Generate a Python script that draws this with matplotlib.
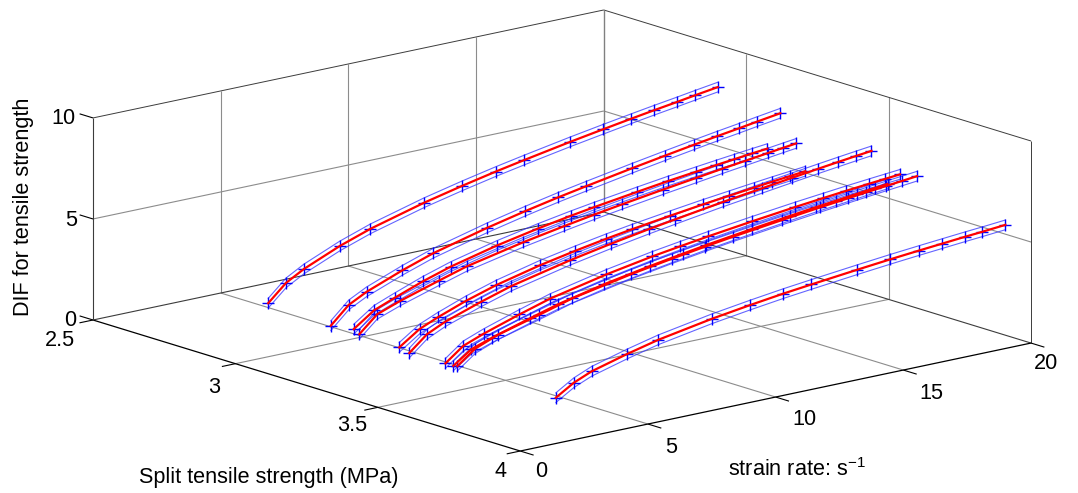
import matplotlib
matplotlib.use("Agg")
import matplotlib.pyplot as plt
from mpl_toolkits.mplot3d import proj3d

plt.rcParams['font.family'] = ['Liberation Sans', 'DejaVu Sans']
plt.rcParams['mathtext.default'] = 'regular'

x_ticks = [0, 5, 10, 15, 20]
y_ticks = [2.5, 3, 3.5, 4]
z_ticks = [0, 5, 10]
y_tick_labels = ['2.5', '3', '3.5', '4']

# split tensile strength of each curve
strength = [2.90, 3.12, 3.20, 3.22, 3.36, 3.44, 3.54, 3.55, 3.60, 3.91]

rate_a = [2.4, 3.1, 3.8, 5.2, 6.4, 8.5, 10, 11.3, 12.4, 14.2, 15.5, 16.6, 17.5, 18.4, 19.1, 20]
rate_c3 = [2.4, 3.2, 4.0, 5.1, 6.2, 8.0, 9.6, 10.9, 11.8, 13.5, 14.7, 15.8, 16.6, 17.3, 18.0, 18.6]
rate_c4 = [2.4, 3.1, 4.0, 5.5, 6.6, 8.8, 10.4, 11.6, 12.7, 14.3, 15.6, 16.6, 17.5, 18.4, 19.0, 19.5]
rate_c5 = [2.4, 3.2, 3.9, 5.0, 6.2, 7.9, 9.3, 10.5, 11.5, 13.0, 14.3, 15.3, 16.3, 17.0, 17.7, 18.3]
rate_c6 = [1.9, 2.6, 3.3, 4.7, 5.9, 8.2, 9.8, 11.3, 12.3, 14.2, 15.7, 16.9, 17.9, 18.7, 19.4, 20.0]
rate_c7 = [2.2, 2.9, 3.7, 5.1, 6.3, 8.5, 10.3, 11.4, 12.5, 14.2, 15.9, 17.0, 17.9, 18.8, 19.4, 20.0]
rate_c8 = [2.4, 3.1, 3.9, 5.4, 6.5, 8.3, 10.1, 11.4, 12.3, 14.1, 15.6, 16.6, 17.4, 18.2, 18.9, 19.4]
rate_c9 = [2.0, 2.7, 3.6, 5.2, 6.5, 8.8, 10.4, 11.7, 12.8, 14.7, 16.2, 17.3, 18.0, 18.8, 19.4, 20.0]
rates = [rate_a, rate_a, rate_c3, rate_c4, rate_c5, rate_c6, rate_c7, rate_c8, rate_c9, rate_a]

dif1 = [1.92, 2.74, 3.24, 4.00, 4.53, 5.26, 5.70, 6.05, 6.32, 6.74, 7.02, 7.25, 7.43, 7.60, 7.74, 7.91]
dif2 = [1.76, 2.60, 3.06, 3.75, 4.27, 4.96, 5.39, 5.73, 5.99, 6.40, 6.68, 6.91, 7.09, 7.26, 7.40, 7.57]
dif3 = [1.93, 2.65, 3.05, 3.57, 4.01, 4.57, 4.98, 5.27, 5.45, 5.76, 5.97, 6.14, 6.26, 6.36, 6.46, 6.54]
dif4 = [1.77, 2.57, 2.99, 3.58, 4.00, 4.60, 4.97, 5.23, 5.45, 5.75, 5.98, 6.16, 6.31, 6.46, 6.56, 6.64]
dif5 = [1.72, 2.42, 2.80, 3.32, 3.79, 4.31, 4.66, 4.93, 5.13, 5.40, 5.62, 5.77, 5.92, 6.02, 6.11, 6.19]
dif6 = [1.92, 2.67, 3.09, 3.70, 4.17, 4.83, 5.22, 5.55, 5.75, 6.12, 6.38, 6.59, 6.76, 6.89, 7.00, 7.09]
dif7 = [1.76, 2.44, 2.83, 3.41, 3.87, 4.48, 4.89, 5.10, 5.30, 5.58, 5.84, 5.99, 6.11, 6.22, 6.29, 6.36]
dif8 = [1.63, 2.26, 2.61, 3.18, 3.58, 4.09, 4.51, 4.78, 4.96, 5.28, 5.53, 5.69, 5.80, 5.92, 6.02, 6.09]
dif9 = [1.94, 2.62, 3.07, 3.62, 4.09, 4.67, 5.01, 5.26, 5.46, 5.77, 6.00, 6.16, 6.26, 6.37, 6.45, 6.53]
dif10 = [1.61, 2.16, 2.54, 3.03, 3.40, 3.88, 4.16, 4.38, 4.54, 4.79, 4.96, 5.09, 5.19, 5.29, 5.36, 5.46]
difs = [dif1, dif2, dif3, dif4, dif5, dif6, dif7, dif8, dif9, dif10]
band = 0.24

W, H = 1078, 493
xmin, xmax = 0, 20
ylo, yhi = 2.5, 4
zmin, zmax = 0, 10

fig = plt.figure(figsize=(W / 100, H / 100), dpi=100)
ax = fig.add_axes([0, 0, 1, 1], projection='3d')
ax.set_proj_type('ortho')
ax.view_init(elev=14.75, azim=-129.7)
ax.set_box_aspect((664, 669, 209))
ax.set_xlim(xmin, xmax)
ax.set_ylim(yhi, ylo)
ax.set_zlim(zmin, zmax)
ax.set_axis_off()
ax.computed_zorder = False


def proj(x, y, z):
    px, py, _ = proj3d.proj_transform(x, y, z, ax.get_proj())
    return px, py


# fit the square axes so the box corners land where the reference has them
L = 900.0
left, bottom = 0.0, 0.0
for _ in range(3):
    ax.set_position([left / W, bottom / H, L / W, L / H])
    ax.apply_aspect()
    p0 = ax.transData.transform(proj(xmin, ylo, zmin))
    p1 = ax.transData.transform(proj(xmax, yhi, zmin))
    L *= (1031 - 93) / (p1[0] - p0[0])
    ax.set_position([left / W, bottom / H, L / W, L / H])
    ax.apply_aspect()
    p0 = ax.transData.transform(proj(xmin, ylo, zmin))
    left += 93 - p0[0]
    bottom += (H - 320) - p0[1]
ax.set_position([left / W, bottom / H, L / W, L / H])


def line(xs, ys, zs, color, lw, zo=1):
    ax.plot(xs, ys, zs, color=color, lw=lw, zorder=zo, clip_on=False, solid_capstyle='butt')


grid_c = '#8c8c8c'
box_c = '#3c3c3c'

# grid on the floor and the two back walls
for t in x_ticks[1:-1]:
    line([t, t], [ylo, yhi], [zmin, zmin], grid_c, 0.8)
    line([t, t], [ylo, ylo], [zmin, zmax], grid_c, 0.8)
for t in y_ticks[1:-1]:
    line([xmin, xmax], [t, t], [zmin, zmin], grid_c, 0.8)
    line([xmax, xmax], [t, t], [zmin, zmax], grid_c, 0.8)
for t in z_ticks[1:-1]:
    line([xmin, xmax], [ylo, ylo], [t, t], grid_c, 0.8)
    line([xmax, xmax], [ylo, yhi], [t, t], grid_c, 0.8)

# box edges
line([xmin, xmax], [ylo, ylo], [zmin, zmin], box_c, 0.8)
line([xmax, xmax], [ylo, yhi], [zmin, zmin], box_c, 0.8)
line([xmin, xmax], [ylo, ylo], [zmax, zmax], box_c, 0.7)
line([xmax, xmax], [ylo, yhi], [zmax, zmax], box_c, 0.7)
line([xmax, xmax], [ylo, ylo], [zmin, zmax], '#808080', 1.0)
line([xmax, xmax], [yhi, yhi], [zmin, zmax], box_c, 0.7)

# axes and ticks
line([xmin, xmax], [yhi, yhi], [zmin, zmin], 'black', 0.9, 2)
line([xmin, xmin], [ylo, yhi], [zmin, zmin], 'black', 0.9, 2)
line([xmin, xmin], [ylo, ylo], [zmin, zmax], box_c, 0.8, 2)
for t in x_ticks:
    line([t, t], [yhi, yhi + 0.047], [zmin, zmin], 'black', 0.8, 2)
for t in y_ticks:
    line([xmin, xmin - 0.53], [t, t], [zmin, zmin], 'black', 0.8, 2)
for t in z_ticks:
    line([xmin, xmin], [ylo, ylo - 0.047], [t, t], 'black', 0.8, 2)

for s, rate, dif in zip(strength, rates, difs):
    yy = [s] * len(rate)
    up = [d + band for d in dif]
    dn = [d - band for d in dif]
    ax.plot(rate, yy, up, color='#3030ff', lw=0.8, alpha=0.75, zorder=3, clip_on=False)
    ax.plot(rate, yy, dn, color='#3030ff', lw=0.8, alpha=0.75, zorder=3, clip_on=False)
    ax.plot(rate, yy, dif, ls='none', marker='+', ms=8, mew=1.0, color='#0000ff', zorder=4, clip_on=False)
    ax.plot(rate, yy, dif, color='red', lw=1.6, zorder=5, clip_on=False)

fs = 15.6


def tick_text(x, y, z, label, dx, dy):
    ax.annotate(label, xy=proj(x, y, z), xycoords='data', xytext=(dx, -dy),
                textcoords='offset pixels', ha='center', va='center',
                fontsize=fs, annotation_clip=False)


x_offs = [(21, 20), (23, 23), (29, 22), (28, 23), (15, 20)]
for t, (dx, dy) in zip(x_ticks, x_offs):
    tick_text(t, yhi, zmin, str(t), dx, dy)
y_offs = [(-33, 21), (-21, 24), (-26, 18), (-20, 20)]
for t, lab, (dx, dy) in zip(y_ticks, y_tick_labels, y_offs):
    tick_text(xmin, t, zmin, lab, dx, dy)
z_offs = [(-23, 0), (-22, 2), (-30, 1)]
for t, (dx, dy) in zip(z_ticks, z_offs):
    tick_text(xmin, ylo, t, str(t), dx, dy)

fig.text(269 / W, 1 - 477 / H, 'Split tensile strength (MPa)', fontsize=fs, ha='center', va='center')
fig.text(797 / W, 1 - 470 / H, 'strain rate: s$^{-1}$', fontsize=fs, ha='center', va='center')
fig.text(24 / W, 1 - 207 / H, 'DIF for tensile strength', fontsize=fs, rotation=90, ha='center', va='center')

fig.savefig('out.png', dpi=100)
